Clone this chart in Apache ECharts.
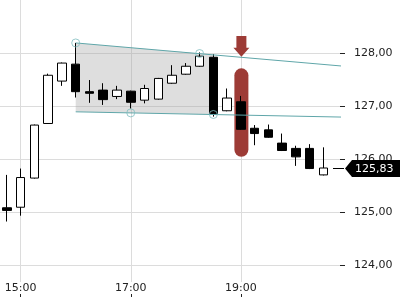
<!DOCTYPE html>
<html><head><meta charset="utf-8">
<script src="https://cdn.jsdelivr.net/npm/echarts@6/dist/echarts.min.js"></script>
<style>html,body{margin:0;padding:0;background:#fff}#c{width:400px;height:300px}</style>
</head><body><div id="c"></div>
<script>
// ---- data ----
const times  = ['14:45','15:00','15:15','15:30','15:45','16:00','16:15','16:30','16:45','17:00','17:15','17:30','17:45','18:00','18:15','18:30','18:45','19:00','19:15','19:30','19:45','20:00','20:15','20:30'];
const opens  = [125.08,125.09,125.64,126.67,127.47,127.79,127.27,127.30,127.18,127.28,127.11,127.13,127.43,127.60,127.75,127.92,126.91,127.08,126.58,126.55,126.30,126.20,126.20,125.70];
const closes = [125.03,125.65,126.64,127.58,127.81,127.27,127.24,127.12,127.30,127.07,127.33,127.52,127.58,127.75,127.94,126.84,127.15,126.56,126.48,126.41,126.16,126.04,125.82,125.83];
const lows   = [124.82,124.93,125.63,126.66,127.38,127.16,127.06,127.02,127.13,126.95,127.05,127.12,127.42,127.59,127.74,126.80,126.90,126.55,126.26,126.40,126.15,125.87,125.81,125.69];
const highs  = [125.70,125.82,126.65,127.61,127.82,128.19,127.49,127.43,127.38,127.29,127.40,127.53,127.77,127.81,128.01,127.98,127.33,127.19,126.64,126.65,126.48,126.25,126.28,126.22];
const xTickLabels = ['15:00','17:00','19:00'];
const yTickValues = [124,125,126,127,128];
const channelUpper = [[5,128.19],[24.5,127.75]];
const channelLower = [[5,126.89],[24.5,126.79]];
const channelShade = [[5,128.19],[15,127.97],[15,126.84],[5,126.89]];
const channelAnchors = [[5,128.19],[14,127.99],[9,126.87],[15,126.84]];
const signalIndex = 17;
const signalBand = [127.71,126.04];
const signalArrow = [128.32,127.93];
const lastPrice = closes[closes.length-1];

// ---- chart ----
const FONT = 'DejaVu Sans';
const RED = '#9d3b36';
const TEAL = '#5fa6a9';
const fmt = v => v.toFixed(2).replace('.', ',');
const xTickValues = xTickLabels.map(l => times.indexOf(l));
const candleData = times.map((t,i) => [i, opens[i], closes[i], lows[i], highs[i]]);

const chart = echarts.init(document.getElementById('c'), null, {renderer:'canvas'});
chart.setOption({
  animation:false,
  grid:{left:0,right:60,top:0,bottom:3,containLabel:false,outerBoundsMode:'none'},
  xAxis:{
    type:'value', min:-0.5, max:24.2,
    axisLine:{show:false,onZero:false},
    axisTick:{show:true,inside:true,length:5,customValues:xTickValues,lineStyle:{color:'#222'}},
    axisLabel:{inside:true,customValues:xTickValues,formatter:v=>times[Math.round(v)],margin:3,
      fontFamily:FONT,fontSize:11,color:'#222',backgroundColor:'#fff',padding:[1,0,0,0]},
    splitLine:{show:true,lineStyle:{color:'#dcdcdc',width:1}}
  },
  yAxis:{
    type:'value', position:'right', min:123.396, max:129, scale:true,
    axisLine:{show:false,onZero:false},
    axisTick:{show:true,length:5,customValues:yTickValues,lineStyle:{color:'#222'}},
    axisLabel:{customValues:yTickValues,formatter:fmt,margin:14,fontFamily:FONT,fontSize:11,color:'#222'},
    splitLine:{show:true,lineStyle:{color:'#dcdcdc',width:1}}
  },
  series:[
    {type:'custom', z:1, silent:true, data:[[channelShade[0][0],channelShade[0][1]]],
     renderItem:(params,api)=>({type:'polygon',shape:{points:channelShade.map(p=>api.coord(p))},
        style:{fill:'rgba(160,160,160,0.35)'}})},
    {type:'custom', z:1.5, silent:true, clip:false, data:[[signalIndex,signalBand[0],signalBand[1]]],
     encode:{x:0,y:[1,2]},
     renderItem:(params,api)=>{
       const top=api.coord([signalIndex,signalBand[0]]), bot=api.coord([signalIndex,signalBand[1]]);
       const aTop=api.coord([signalIndex,signalArrow[0]]), aTip=api.coord([signalIndex,signalArrow[1]]);
       const x=top[0]+0.5, w=14;
       return {type:'group',children:[
         {type:'rect',shape:{x:x-w/2,y:top[1],width:w,height:bot[1]-top[1],r:w/2},style:{fill:RED}},
         {type:'polygon',shape:{points:[[x-5,aTop[1]],[x+5,aTop[1]],[x+5,aTip[1]-9],[x+8,aTip[1]-9],[x,aTip[1]],[x-8,aTip[1]-9],[x-5,aTip[1]-9]]},style:{fill:RED}}
       ]};
     }},
    {type:'candlestick', z:2, barWidth:9, data:candleData, encode:{x:0,y:[1,2,3,4]},
     itemStyle:{color:'#fff',color0:'#000',borderColor:'#000',borderColor0:'#000',borderWidth:1}},
    {type:'line', z:3, clip:false, symbol:'none', data:channelUpper, lineStyle:{color:TEAL,width:1}},
    {type:'line', z:3, clip:false, symbol:'none', data:channelLower, lineStyle:{color:TEAL,width:1}},
    {type:'scatter', z:4, symbol:'circle', symbolSize:8, data:channelAnchors,
     itemStyle:{color:'rgba(255,255,255,0)',borderColor:'#80bdbf',borderWidth:1}},
    {type:'custom', z:6, silent:true, clip:false, data:[[23,lastPrice]],
     renderItem:(params,api)=>{
       const p=api.coord([23,lastPrice]); const cs=params.coordSys;
       const xr=cs.x+cs.width; const y=Math.round(p[1]);
       return {type:'group',children:[
         {type:'line',shape:{x1:xr-7,y1:y+0.5,x2:xr+4,y2:y+0.5},style:{stroke:'#000',lineWidth:1}},
         {type:'polygon',shape:{points:[[xr+5,y+0.5],[xr+12,y-8],[400,y-8],[400,y+9],[xr+12,y+9]]},style:{fill:'#000'}},
         {type:'text',x:xr+15,y:y+1,style:{text:fmt(lastPrice),fill:'#fff',font:'11px "DejaVu Sans"',align:'left',verticalAlign:'middle'}}
       ]};
     }}
  ]
});
</script></body></html>
